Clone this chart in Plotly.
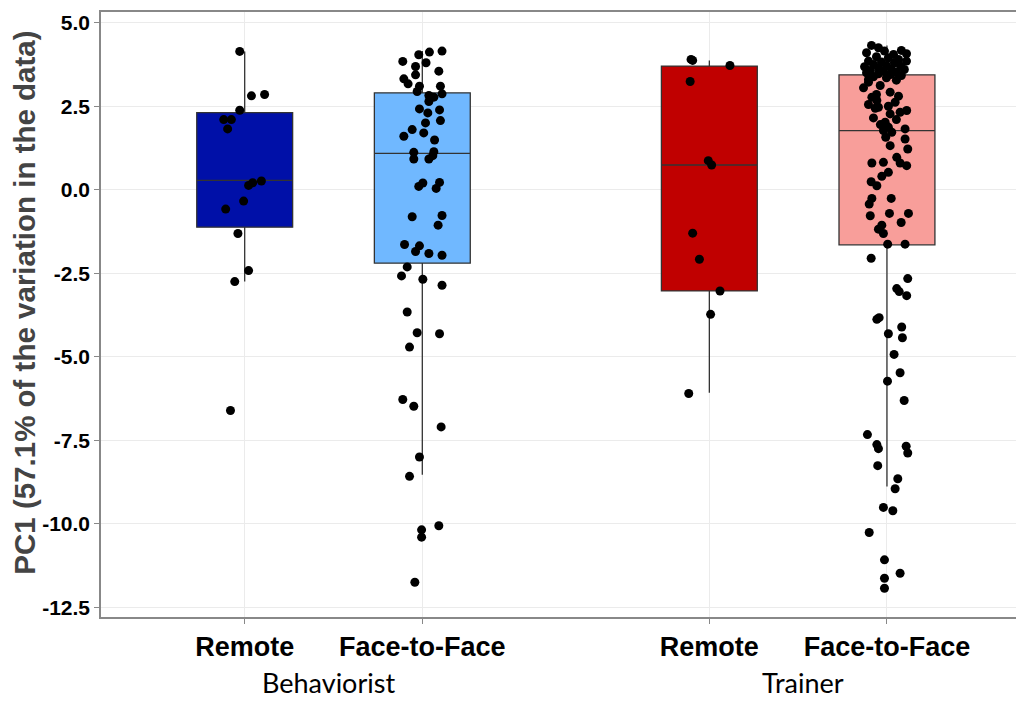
import plotly.graph_objects as go

# Category positions (Behaviorist Remote, Behaviorist F2F, Trainer Remote, Trainer F2F)
positions = [1.0, 2.0, 3.616, 4.616]
tick_labels = ["Remote", "Face-to-Face", "Remote", "Face-to-Face"]
groups = ["Behaviorist", "Trainer"]
box_colors = ["#0010A8", "#70B8FF", "#C00000", "#F89E9A"]

# Box statistics
q1 = [-1.12, -2.20, -3.03, -1.65]
median = [0.28, 1.09, 0.74, 1.77]
q3 = [2.31, 2.90, 3.70, 3.44]
lowerfence = [-2.75, -8.53, -6.08, -8.88]
upperfence = [4.14, 4.15, 3.87, 4.32]

# Jittered points: horizontal jitter (axis units) and PC1 values
br_jitter = [-0.028, 0.038, 0.112, -0.028, -0.118, -0.075, -0.096, 0.094, 0.045, 0.022,
             -0.006, -0.107, -0.038, 0.022, -0.056, -0.080]
br_values = [4.14, 2.81, 2.85, 2.38, 2.10, 2.10, 1.82, 0.26, 0.21, 0.13,
             -0.34, -0.58, -1.31, -2.42, -2.75, -6.61]

bf_jitter = [-0.110, -0.020, 0.040, 0.111, 0.021, -0.038, 0.093, -0.038, -0.104, -0.080,
             -0.016, 0.102, -0.029, 0.037, 0.111, 0.065, 0.037, -0.016, 0.031, 0.097,
             0.102, 0.018, -0.057, -0.104, 0.008, 0.069, -0.048, 0.065, -0.048, 0.037,
             0.059, 0.003, -0.020, 0.097, 0.078, -0.057, 0.111, 0.089, -0.100, -0.016,
             -0.038, 0.037, 0.111, -0.085, -0.117, 0.003, 0.111, -0.085, -0.029, 0.097,
             -0.072, -0.110, -0.048, 0.106, -0.016, -0.072, -0.004, 0.093, -0.004, -0.042]
bf_values = [3.84, 4.04, 4.12, 4.15, 3.80, 3.69, 3.55, 3.44, 3.32, 3.17,
             3.10, 3.10, 2.94, 2.82, 2.87, 2.77, 2.64, 2.42, 2.30, 2.39,
             2.07, 2.00, 1.80, 1.60, 1.70, 1.49, 1.12, 1.14, 0.92, 0.92,
             1.02, 0.20, 0.10, 0.22, 0.04, -0.81, -0.77, -1.06, -1.64, -1.68,
             -1.85, -1.91, -1.96, -2.31, -2.58, -2.68, -2.86, -3.66, -4.28, -4.31,
             -4.71, -6.28, -6.48, -7.10, -8.00, -8.58, -10.18, -10.06, -10.40, -11.75]

tr_jitter = [-0.103, -0.094, 0.116, -0.108, -0.006, 0.013, -0.094, -0.056, 0.060, 0.007, -0.116]
tr_values = [3.90, 3.87, 3.72, 3.24, 0.87, 0.74, -1.30, -2.08, -3.03, -3.73, -6.10]

tf_jitter = [-0.087, -0.048, 0.081, 0.110, -0.115, -0.014, 0.037, -0.059, 0.008, 0.065,
             -0.104, -0.031, 0.042, 0.110, -0.076, -0.003, 0.076, -0.126, -0.048, 0.025,
             0.098, -0.093, -0.020, 0.053, -0.115, -0.048, 0.020, 0.081, -0.076, -0.003,
             -0.104, 0.053,
             -0.104, -0.038, -0.132, 0.018, -0.059, 0.065, -0.085, -0.057, 0.046, -0.104,
             0.008, -0.048, 0.111, -0.066, 0.018, 0.074, -0.076, 0.053, -0.010, -0.037,
             0.008, 0.102, -0.020, 0.027, -0.007, 0.102, 0.018, 0.117, 0.055, -0.085,
             -0.020, 0.074, 0.111, 0.008, -0.029, -0.089, -0.057, -0.085, 0.024, -0.100,
             -0.094, 0.014, 0.121, 0.080, -0.029, -0.048, -0.020, 0.004, 0.102, -0.089,
             0.117, 0.055, 0.069, 0.111,
             -0.057, -0.044, 0.083, 0.008, 0.087, 0.040, 0.074, 0.003, 0.097, -0.110,
             -0.057, -0.048, 0.108, 0.117, -0.052, 0.061, 0.046, -0.020, 0.033, -0.100,
             -0.014, 0.074, -0.014, -0.014]
tf_values = [4.32, 4.25, 4.17, 4.07, 4.10, 4.15, 4.05, 3.98, 3.95, 3.90,
             3.85, 3.82, 3.80, 3.85, 3.75, 3.72, 3.70, 3.68, 3.65, 3.62,
             3.60, 3.57, 3.55, 3.52, 3.50, 3.47, 3.45, 3.42, 3.38, 3.35,
             3.30, 3.28,
             3.22, 3.12, 3.05, 2.92, 2.85, 2.80, 2.77, 2.67, 2.62, 2.55,
             2.50, 2.47, 2.37, 2.44, 2.27, 2.32, 2.15, 2.10, 2.02, 1.95,
             1.87, 1.82, 1.77, 1.72, 1.57, 1.52, 1.32, 1.22, 0.97, 0.80,
             0.82, 0.80, 0.72, 0.52, 0.40, 0.24, 0.12, -0.26, -0.26, -0.43,
             -0.78, -0.71, -0.71, -0.98, -1.06, -1.18, -1.31, -1.63, -1.63, -2.05,
             -2.66, -2.96, -3.05, -3.17,
             -3.88, -3.83, -4.11, -4.31, -4.43, -4.93, -5.48, -5.73, -6.31, -7.33,
             -7.63, -7.75, -7.68, -7.88, -8.26, -8.65, -8.95, -9.51, -9.61, -10.26,
             -11.08, -11.48, -11.63, -11.93]

y_ticks = [5.0, 2.5, 0.0, -2.5, -5.0, -7.5, -10.0, -12.5]
y_tick_text = ["5.0", "2.5", "0.0", "-2.5", "-5.0", "-7.5", "-10.0", "-12.5"]
y_title = "PC1 (57.1% of the variation in the data)"

jitters = [br_jitter, bf_jitter, tr_jitter, tf_jitter]
values = [br_values, bf_values, tr_values, tf_values]

fig = go.Figure()
for i in range(4):
    fig.add_trace(go.Box(
        x=[positions[i]], q1=[q1[i]], median=[median[i]], q3=[q3[i]],
        lowerfence=[lowerfence[i]], upperfence=[upperfence[i]],
        fillcolor=box_colors[i], line=dict(color="#333333", width=1.3),
        whiskerwidth=0, width=0.54, boxpoints=False, showlegend=False,
        hoverinfo="skip",
    ))
for i in range(4):
    fig.add_trace(go.Scatter(
        x=[positions[i] + j for j in jitters[i]], y=values[i], mode="markers",
        marker=dict(color="black", size=9, line=dict(width=0)),
        showlegend=False, hoverinfo="skip",
    ))

font_family = "Liberation Sans, Arial, sans-serif"
fig.update_layout(
    width=1016, height=693,
    margin=dict(l=93, r=2, t=2, b=84),
    paper_bgcolor="white", plot_bgcolor="white",
    font=dict(family=font_family, color="black"),
    xaxis=dict(
        range=[0.191, 5.365], tickmode="array", tickvals=positions,
        ticktext=["<b>%s</b>" % t for t in tick_labels],
        tickfont=dict(size=27, color="black", family=font_family),
        showgrid=True, gridcolor="#EBEBEB", gridwidth=1,
        ticks="outside", ticklen=5, tickcolor="#888888", tickwidth=1,
        showline=True, linecolor="#888888", linewidth=1.5, mirror=True,
        zeroline=False,
    ),
    yaxis=dict(
        range=[-12.79, 5.32], tickmode="array", tickvals=y_ticks,
        ticktext=["<b>%s</b>" % t for t in y_tick_text],
        tickfont=dict(size=21, color="black", family=font_family),
        showgrid=True, gridcolor="#EBEBEB", gridwidth=1,
        ticks="outside", ticklen=5, tickcolor="#888888", tickwidth=1,
        showline=True, linecolor="#888888", linewidth=1.5, mirror=True,
        zeroline=False,
    ),
)

fig.add_annotation(
    text="<b>%s</b>" % y_title, xref="paper", yref="paper",
    x=-0.0835, y=0.52, textangle=-90, showarrow=False,
    xanchor="center", yanchor="middle",
    font=dict(size=29.5, color="#444444", family=font_family),
)
group_x = [(positions[0] + positions[1]) / 2 - 0.03, (positions[2] + positions[3]) / 2 + 0.03]
for gx, g in zip(group_x, groups):
    fig.add_annotation(
        text=g, xref="x", yref="paper", x=gx, y=-0.1087,
        showarrow=False, xanchor="center", yanchor="middle",
        font=dict(size=27, color="black", family="Lato, Noto Sans, sans-serif"),
    )

fig.write_html("out.html")
